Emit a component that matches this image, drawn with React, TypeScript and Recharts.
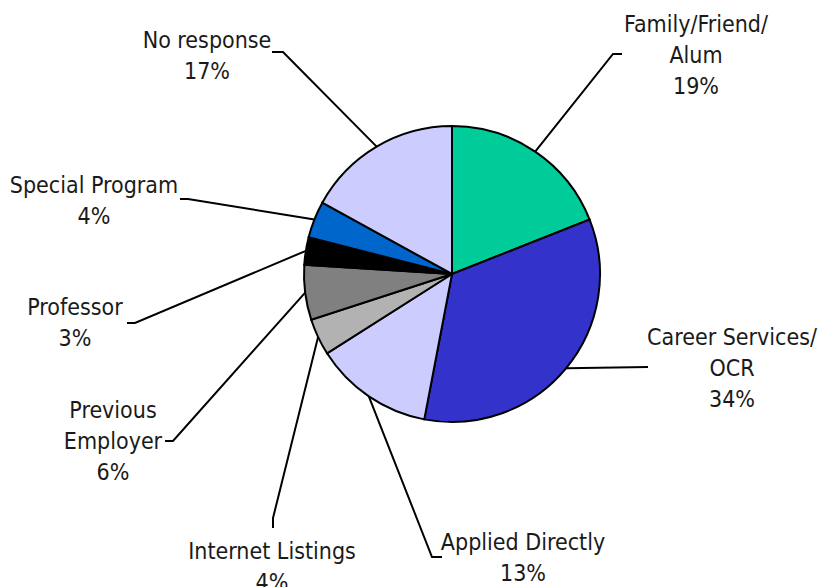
import React from "react";
import { PieChart, Pie, Cell } from "recharts";

// survey: how respondents found their position
const categories = [
  "Family/Friend/Alum",
  "Career Services/OCR",
  "Applied Directly",
  "Internet Listings",
  "Previous Employer",
  "Professor",
  "Special Program",
  "No response",
];
const shares = [19, 34, 13, 4, 6, 3, 4, 17];
const labelLines = [
  ["Family/Friend/", "Alum"],
  ["Career Services/", "OCR"],
  ["Applied Directly"],
  ["Internet Listings"],
  ["Previous", "Employer"],
  ["Professor"],
  ["Special Program"],
  ["No response"],
];

const colors = [
  "#00CC99",
  "#3333CC",
  "#CCCCFF",
  "#B2B2B2",
  "#808080",
  "#000000",
  "#0066CC",
  "#CCCCFF",
];

// label placement: text centre x, first baseline y, leader elbow points
const labelLayout = [
  { x: 696, y: 32, path: [[613, 54], [622, 54]] },
  { x: 732, y: 345, path: [[648, 367]] },
  { x: 523, y: 550, path: [[432, 557], [442, 557]] },
  { x: 272, y: 559, path: [[273, 518], [273, 528]] },
  { x: 113, y: 418, path: [[173, 441], [165, 441]] },
  { x: 75, y: 315, path: [[135, 323], [127, 323]] },
  { x: 94, y: 193, path: [[188, 199], [180, 199]] },
  { x: 207, y: 48, path: [[283, 52], [272, 52]] },
];

const data = categories.map((name, i) => ({ name, value: shares[i] }));

const FONT = "'DejaVu Sans Condensed', 'DejaVu Sans', sans-serif";
const LINE_H = 31;
const RAD = Math.PI / 180;

const renderLabel = (props: any) => {
  const { cx, cy, midAngle, outerRadius, index } = props;
  const sx = cx + outerRadius * Math.cos(-midAngle * RAD);
  const sy = cy + outerRadius * Math.sin(-midAngle * RAD);
  const lay = labelLayout[index];
  const pts = [[sx, sy], ...lay.path];
  const d = pts.map((p, i) => `${i === 0 ? "M" : "L"}${p[0]},${p[1]}`).join(" ");
  const lines = [...labelLines[index], `${shares[index]}%`];
  return (
    <g key={`lbl-${index}`}>
      <path d={d} stroke="#000" strokeWidth={2} fill="none" />
      <text
        x={lay.x}
        y={lay.y}
        textAnchor="middle"
        fontFamily={FONT}
        fontSize={23}
        fill="#1a1a1a"
      >
        {lines.map((t, i) => (
          <tspan key={i} x={lay.x} y={lay.y + i * LINE_H}>
            {t}
          </tspan>
        ))}
      </text>
    </g>
  );
};

export default function App() {
  return (
    <div style={{ position: "absolute", left: 0, top: 0, width: 833, height: 587, background: "#fff" }}>
      <PieChart width={833} height={587} margin={{ top: 0, right: 0, bottom: 0, left: 0 }}>
        <Pie
          data={data}
          dataKey="value"
          nameKey="name"
          cx={452}
          cy={274}
          outerRadius={148}
          startAngle={90}
          endAngle={-270}
          stroke="#000"
          strokeWidth={2}
          label={renderLabel}
          labelLine={false}
          isAnimationActive={false}
        >
          {data.map((d, i) => (
            <Cell key={d.name} fill={colors[i]} />
          ))}
        </Pie>
      </PieChart>
    </div>
  );
}
